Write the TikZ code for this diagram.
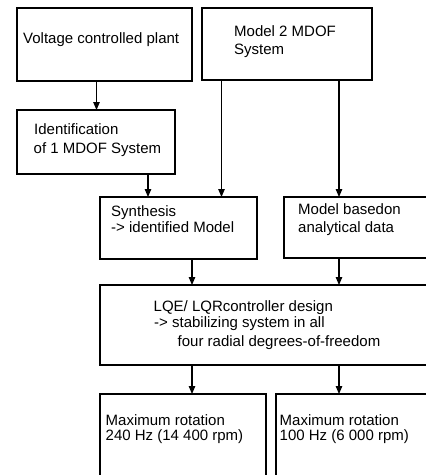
\documentclass[tikz,border=0pt]{standalone}
\usepackage{fontspec}
\setmainfont{Liberation Sans}
\usetikzlibrary{arrows.meta}
\begin{document}
\begin{tikzpicture}[x=1pt,y=-1pt,
  box/.style={draw,line width=1.2pt,rectangle,anchor=north west,inner sep=0pt,outer sep=0pt},
  txt/.style={anchor=base west,inner sep=0pt,font=\fontsize{15pt}{17pt}\selectfont},
  arr/.style={line width=1.2pt,-{Triangle[length=8pt,width=6.5pt]}}]
\useasboundingbox (0,0) rectangle (426,475);
\clip (0,0) rectangle (426,475);
\fill[white] (0,0) rectangle (426,475);
% boxes
\node[box,minimum width=175pt,minimum height=73pt] (b1) at (17,8) {};
\node[box,minimum width=170pt,minimum height=72pt] (b2) at (202,8) {};
\node[box,minimum width=158pt,minimum height=64pt] (b3) at (17,110) {};
\node[box,minimum width=157pt,minimum height=62pt] (b4) at (100,197) {};
\node[box,minimum width=160pt,minimum height=61pt] (b5) at (284,197) {};
\node[box,minimum width=340pt,minimum height=80pt] (b6) at (100,285) {};
\node[box,minimum width=166pt,minimum height=110pt] (b7) at (100,394) {};
\node[box,minimum width=170pt,minimum height=110pt] (b8) at (276,394) {};
% texts
\node[txt] (t1) at (23,43.3) {Voltage controlled plant};
\node[txt] (t2a) at (234,36.7) {Model 2 MDOF};
\node[txt] (t2b) at (234,54) {System};
\node[txt] (t3a) at (34,134) {Identification};
\node[txt] (t3b) at (33.5,153) {of 1 MDOF System};
\node[txt] (t4a) at (111,216.7) {Synthesis};
\node[txt] (t4b) at (111,232.7) {-> identified Model};
\node[txt] (t5a) at (298,214) {Model basedon};
\node[txt] (t5b) at (298,232.7) {analytical data};
\node[txt] (t6a) at (153.5,311.7) {LQE/ LQRcontroller design};
\node[txt] (t6b) at (154,327.3) {-> stabilizing system in all};
\node[txt] (t6c) at (177.5,346) {four radial degrees-of-freedom};
\node[txt] (t7a) at (105.5,425) {Maximum rotation};
\node[txt] (t7b) at (105.5,440.7) {240 Hz (14 400 rpm)};
\node[txt] (t8a) at (279.5,425) {Maximum rotation};
\node[txt] (t8b) at (279.5,440.7) {100 Hz (6 000 rpm)};
% connectors
\draw[arr] (b1.south -| 96.5,0) -- (b3.north -| 96.5,0);
\draw[arr] (b3.south -| 148,0) -- (b4.north -| 148,0);
\draw[arr] (b2.south -| 221.5,0) -- (b4.north -| 221.5,0);
\draw[arr] (b2.south -| 339,0) -- (b5.north -| 339,0);
\draw[arr] (b4.south -| 192,0) -- (b6.north -| 192,0);
\draw[arr] (b5.south -| 339,0) -- (b6.north -| 339,0);
\draw[arr] (b6.south -| 192,0) -- (b7.north -| 192,0);
\draw[arr] (b6.south -| 339,0) -- (b8.north -| 339,0);
\end{tikzpicture}
\end{document}
